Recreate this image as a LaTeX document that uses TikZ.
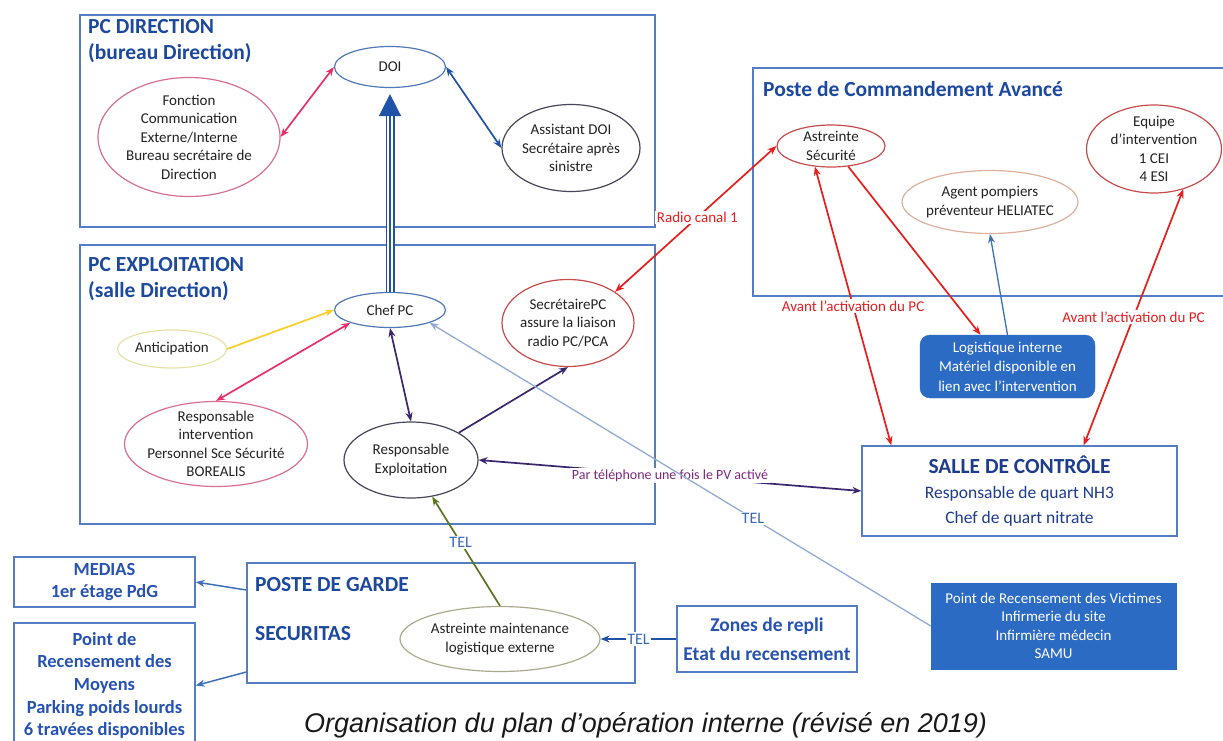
\documentclass[tikz,border=0pt]{standalone}
\usepackage{fontspec}
\setmainfont{Carlito}
\newfontfamily\captionfont{Liberation Sans}
\usetikzlibrary{arrows.meta,shapes.geometric}

\definecolor{frameblue}{RGB}{84,125,195}
\definecolor{titleblue}{RGB}{28,72,158}
\definecolor{boxtextblue}{RGB}{38,82,178}
\definecolor{salleblue}{RGB}{30,60,140}
\definecolor{fillblue}{RGB}{44,107,196}
\definecolor{inkgray}{RGB}{35,35,35}
\definecolor{pinkline}{RGB}{214,110,150}
\definecolor{pinkarrow}{RGB}{232,48,110}
\definecolor{redline}{RGB}{200,75,75}
\definecolor{redarrow}{RGB}{230,30,30}
\definecolor{darkline}{RGB}{70,70,90}
\definecolor{darkpurple}{RGB}{58,38,108}
\definecolor{labelpurple}{RGB}{125,40,125}
\definecolor{darkblue}{RGB}{32,82,165}
\definecolor{midblue}{RGB}{62,112,185}
\definecolor{lightblue}{RGB}{145,172,212}
\definecolor{telblue}{RGB}{55,105,180}
\definecolor{greenarrow}{RGB}{90,118,35}
\definecolor{yellowarrow}{RGB}{250,205,40}
\definecolor{yellowline}{RGB}{232,225,165}
\definecolor{peachline}{RGB}{222,175,155}
\definecolor{oliveline}{RGB}{170,170,140}
\definecolor{ovalblue}{RGB}{80,120,185}
\definecolor{captiongray}{RGB}{25,25,25}

\begin{document}
\begin{tikzpicture}[x=1pt, y=-1pt,
        every node/.style={font=\fontsize{15}{18.5}\selectfont, text=inkgray},
        frame/.style={draw=frameblue, line width=1.4pt, inner sep=0pt},
        oval/.style={ellipse, draw=#1, line width=1.2pt, inner sep=-5pt, align=center},
        heading/.style={anchor=west, inner sep=0pt, align=left, text=titleblue, font=\fontsize{21.5}{26}\selectfont\bfseries},
        boxtext/.style={frame, align=center, text=boxtextblue, font=\fontsize{18.5}{22.7}\selectfont\bfseries},
        solidbox/.style={fill=fillblue, draw=fillblue, inner sep=0pt, align=center, text=white},
        wire/.style={line width=1.7pt, draw=#1},
        onehead/.style={-{Stealth[length=9pt,width=7pt]}},
        twoheads/.style={{Stealth[length=9pt,width=7pt]}-{Stealth[length=9pt,width=7pt]}},
        tag/.style={fill=white, inner sep=1.5pt, text=#1}]
                \clip (0,0) rectangle (1223,741);
                \fill[white] (0,0) rectangle (1223,741);

                % frames
                \node[frame, minimum width=575pt, minimum height=212pt] (pcdir) at (367.5,121) {};
                \node[frame, minimum width=575pt, minimum height=279pt] (pcexp) at (367.5,384.5) {};
                \node[frame, minimum width=473pt, minimum height=228pt] (pca) at (989.5,182) {};
                \node[frame, minimum width=388pt, minimum height=120pt] (garde) at (441,623) {};

                \node[heading] (pcdirtitle) at (88,41) {PC DIRECTION\\(bureau Direction)};
                \node[heading] (pcexptitle) at (88,279.5) {PC EXPLOITATION\\(salle Direction)};
                \node[heading] (pcatitle) at (763,89) {Poste de Commandement Avancé};
                \node[heading] (gardetitle) at (255,585) {POSTE DE GARDE};
                \node[heading] (securitas) at (255,634) {SECURITAS};

                % ellipses
                \node[oval=ovalblue, minimum width=111pt, minimum height=41pt] (doi) at (390,67) {DOI};
                \node[oval=pinkline, minimum width=182pt, minimum height=119pt] (fonc) at (189,137) {Fonction\\Communication\\Externe/Interne\\Bureau secrétaire de\\Direction};
                \node[oval=darkline, minimum width=138pt, minimum height=87pt] (asst) at (571,148) {Assistant DOI\\Secrétaire après\\sinistre};
                \node[oval=ovalblue, minimum width=111pt, minimum height=35pt] (chef) at (390,310) {Chef PC};
                \node[oval=yellowline, minimum width=109pt, minimum height=38pt] (antic) at (172,349) {Anticipation};
                \node[oval=pinkline, minimum width=183pt, minimum height=85pt] (intv) at (216,444) {Responsable\\intervention\\Personnel Sce Sécurité\\BOREALIS};
                \node[oval=darkline, minimum width=134pt, minimum height=76pt] (expl) at (411,460) {Responsable\\Exploitation};
                \node[oval=redline, minimum width=132pt, minimum height=87pt] (secr) at (568,323) {SecrétairePC\\assure la liaison\\radio PC/PCA};
                \node[oval=redline, minimum width=108pt, minimum height=42pt] (astr) at (831,146) {Astreinte\\Sécurité};
                \node[oval=redline, minimum width=135pt, minimum height=88pt] (equip) at (1154,149) {Equipe\\d’intervention\\1 CEI\\4 ESI};
                \node[oval=peachline, minimum width=176pt, minimum height=63pt] (agent) at (990,202) {Agent pompiers\\préventeur HELIATEC};
                \node[oval=oliveline, minimum width=200pt, minimum height=65pt] (maint) at (500,639) {Astreinte maintenance\\logistique externe};

                % boxes
                \node[solidbox, rounded corners=10pt, minimum width=175pt, minimum height=63pt, font=\fontsize{15}{19.5}\selectfont] (logi) at (1007.5,366.5) {Logistique interne\\Matériel disponible en\\lien avec l’intervention};
                \node[frame, minimum width=315pt, minimum height=90pt, align=center, text=salleblue, font=\fontsize{17.5}{25}\selectfont] (salle) at (1019.5,491) {{\fontsize{21.5}{25}\selectfont\bfseries SALLE DE CONTRÔLE}\\Responsable de quart NH3\\Chef de quart nitrate};
                \node[solidbox, minimum width=245pt, minimum height=86pt] (victimes) at (1053.5,626) {Point de Recensement des Victimes\\Infirmerie du site\\Infirmière médecin\\SAMU};
                \node[boxtext, font=\fontsize{19.5}{29}\selectfont\bfseries, minimum width=180pt, minimum height=66pt] (zones) at (767,639) {Zones de repli\\Etat du recensement};
                \node[boxtext, minimum width=181pt, minimum height=50pt] (medias) at (104.5,582) {MEDIAS\\1er étage PdG};
                \node[boxtext, minimum width=181pt, minimum height=125pt] (moyens) at (104.5,685.5) {Point de\\Recensement des\\Moyens\\Parking poids lourds\\6 travées disponibles};

                % links
                \draw[wire=pinkarrow, twoheads] (fonc.east) -- (doi.west);
                \draw[wire=darkblue, twoheads] (doi.east) -- (asst.west);
                \draw[darkblue, line width=1.5pt, double=white, double distance=6pt, shorten >=20pt] (chef.north) -- (doi.south);
                \draw[darkblue, line width=1.5pt, -{Triangle[width=22pt,length=22pt]}, shorten >=6pt] (chef.north) -- (doi.south);
                \draw[wire=yellowarrow, onehead] (antic.east) -- (chef.west);
                \draw[wire=pinkarrow, twoheads] (chef.south west) -- (intv.north);
                \draw[wire=darkpurple, twoheads] (chef.south) -- (expl.north);
                \draw[wire=darkpurple, onehead] (expl.north east) -- (secr.south);
                \draw[wire=redarrow, twoheads] (astr.west) -- node[tag=redarrow, pos=0.49] {Radio canal 1} (secr.north east);
                \draw[wire=redarrow, onehead] (astr.-50) -- ([xshift=-27pt]logi.north);
                \draw[line width=1.3pt, draw=midblue, onehead] (logi.north) -- (agent.south);
                \draw[wire=redarrow, twoheads] ([xshift=30pt]salle.north west) -- node[tag=redarrow] {Avant l’activation du PC} (astr.-128);
                \draw[wire=redarrow, twoheads] ([xshift=-94pt]salle.north east) -- node[tag=redarrow] {Avant l’activation du PC} (equip.-54);
                \draw[wire=darkpurple, twoheads] (expl.east) -- node[tag=labelpurple, font=\fontsize{14}{16}\selectfont] {Par téléphone une fois le PV activé} (salle.west);
                \draw[line width=1.3pt, draw=lightblue, onehead] (victimes.west) -- node[tag=telblue, pos=0.355, font=\fontsize{16}{18}\selectfont] {TEL} (chef.south east);
                \draw[wire=greenarrow, onehead] (maint.north) -- node[tag=telblue, pos=0.58, font=\fontsize{16}{18}\selectfont] {TEL} (expl.-60);
                \draw[line width=1.3pt, draw=darkblue, onehead] (zones.west) -- node[tag=telblue, font=\fontsize{16}{18}\selectfont] {TEL} (maint.east);
                \draw[line width=1.5pt, draw=midblue, onehead] ([yshift=33pt]garde.west) -- (medias.east);
                \draw[line width=1.5pt, draw=midblue, onehead] ([yshift=-49pt]garde.west) -- (moyens.east);

                \node[anchor=base west, inner sep=0pt, text=captiongray, font=\captionfont\itshape\fontsize{27}{30}\selectfont] (caption) at (304,732) {Organisation du plan d’opération interne (révisé en 2019)};
\end{tikzpicture}
\end{document}
